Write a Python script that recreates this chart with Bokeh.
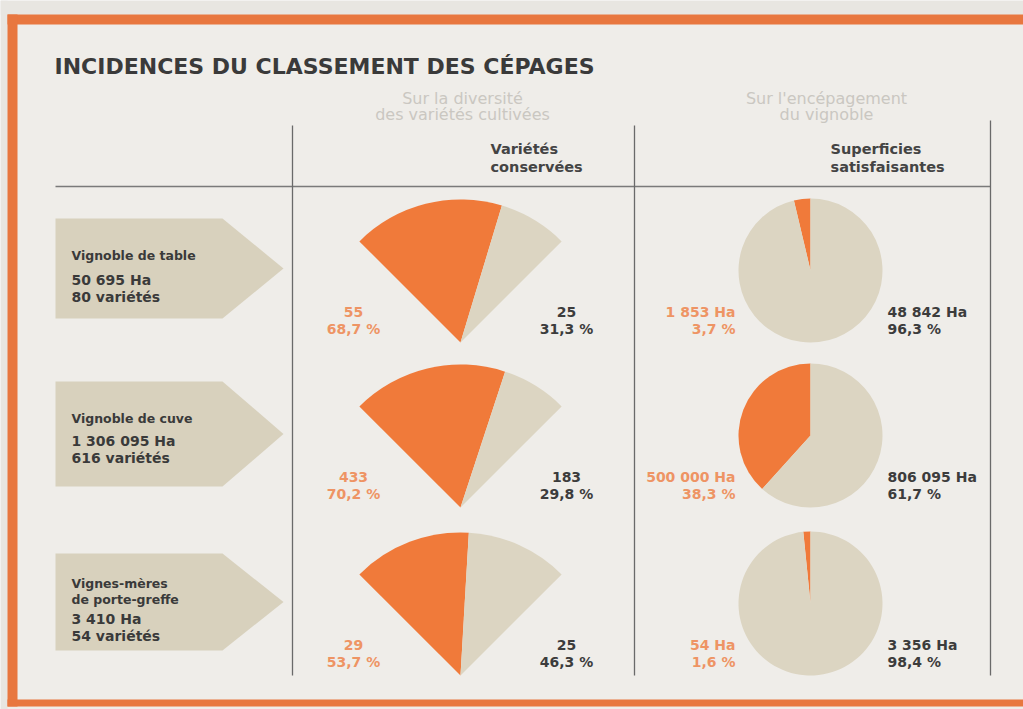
from bokeh.plotting import figure
from bokeh.models import Range1d
from bokeh.embed import file_html
from bokeh.resources import INLINE
from bokeh.core.properties import value
import numpy as np

# ---------------- data ----------------
title = "INCIDENCES DU CLASSEMENT DES CÉPAGES"
head_left = ["Sur la diversité", "des variétés cultivées"]
head_right = ["Sur l'encépagement", "du vignoble"]
sub_left = ["Variétés", "conservées"]
sub_right = ["Superficies", "satisfaisantes"]

category_lines = [["Vignoble de table"], ["Vignoble de cuve"], ["Vignes-mères", "de porte-greffe"]]
total_ha = [50695, 1306095, 3410]
total_var = [80, 616, 54]

var_other = [55, 433, 29]          # orange part of fan
var_other_pct = [68.7, 70.2, 53.7]
var_kept = [25, 183, 25]           # beige part (variétés conservées)
var_kept_pct = [31.3, 29.8, 46.3]

ha_other = [1853, 500000, 54]       # orange part of pie
ha_other_pct = [3.7, 38.3, 1.6]
ha_sat = [48842, 806095, 3356]      # beige part (superficies satisfaisantes)
ha_sat_pct = [96.3, 61.7, 98.4]

# ---------------- style ----------------
ORANGE = "#f07a3a"
ORANGE_TXT = "#ee9464"
BEIGE = "#dcd5c2"
ARROW = "#d8d1bd"
BG = "#efede9"
OUTER = "#e8e6e1"
FRAME = "#e8773f"
DARK = "#3c3c3c"
FONT = value("DejaVu Sans")

def fmt_int(n):
    return f"{n:,}".replace(",", " ")

def fmt_pct(v):
    return f"{v:.1f}".replace(".", ",") + " %"

W, H = 1023, 709
p = figure(width=W, height=H, x_range=Range1d(0, W), y_range=Range1d(0, H),
           output_backend="svg", toolbar_location=None, min_border=0)
p.axis.visible = False
p.grid.visible = False
p.outline_line_color = None
p.background_fill_color = BG
p.border_fill_color = OUTER

def Y(v):
    return H - v

# frame
p.quad(left=0, right=W, top=Y(0), bottom=Y(14), fill_color=OUTER, line_color=None)
p.quad(left=0, right=7, top=Y(0), bottom=Y(H), fill_color=OUTER, line_color=None)
p.quad(left=7, right=W, top=Y(14), bottom=Y(24), fill_color=FRAME, line_color=None)
p.quad(left=7, right=17, top=Y(14), bottom=Y(706), fill_color=FRAME, line_color=None)
p.quad(left=7, right=W, top=Y(699), bottom=Y(706), fill_color=FRAME, line_color=None)

# rules
p.segment(x0=55, y0=Y(186), x1=990, y1=Y(186), line_color="#7a7a7a", line_width=1.3)
p.segment(x0=[292, 634, 990], y0=[Y(125), Y(125), Y(120)], x1=[292, 634, 990],
          y1=[Y(675)] * 3, line_color="#6a6a6a", line_width=1.3)

def txt(x, y, t, size, color=DARK, align="left", bold=True):
    p.text(x=[x], y=[Y(y)], text=[t], text_font=FONT, text_font_size=f"{size}px",
           text_font_style="bold" if bold else "normal", text_color=color,
           text_align=align, text_baseline="middle")

# title & headers
txt(54, 66, title, 22, color="#3a3a3a")
HC = "#cac7c1"
txt(462, 98, head_left[0], 16, color=HC, align="center", bold=False)
txt(462, 114, head_left[1], 16, color=HC, align="center", bold=False)
txt(826, 98, head_right[0], 16, color=HC, align="center", bold=False)
txt(826, 114, head_right[1], 16, color=HC, align="center", bold=False)
txt(490, 148, sub_left[0], 14.5, color="#444444")
txt(490, 166, sub_left[1], 14.5, color="#444444")
txt(830, 148, sub_right[0], 14.5, color="#444444")
txt(830, 166, sub_right[1], 14.5, color="#444444")

# row layout
base = [342, 507, 675]
arrow_top = [218, 381, 553]
arrow_bot = [318, 486, 650]
name_off = [37, 37, 30]
ha_gap = [24, 22, 19]

for i in range(3):
    t, b = arrow_top[i], arrow_bot[i]
    mid = (t + b) / 2
    p.patch(x=[55, 222, 283, 222, 55], y=[Y(t), Y(t), Y(mid), Y(b), Y(b)],
            fill_color=ARROW, line_color=None)
    yy = t + name_off[i]
    for line in category_lines[i]:
        txt(71, yy, line, 12.5, color="#3a3a3a")
        yy += 16
    yy += ha_gap[i] - 16
    txt(71, yy, fmt_int(total_ha[i]) + " Ha", 14, color="#3a3a3a")
    txt(71, yy + 17, fmt_int(total_var[i]) + " variétés", 14, color="#3a3a3a")

    # fan (90 degree sector)
    split = 135 - var_other_pct[i] / 100 * 90
    p.wedge(x=[460], y=[Y(base[i])], radius=143, start_angle=np.radians(split),
            end_angle=np.radians(135), fill_color=ORANGE, line_color=None)
    p.wedge(x=[460], y=[Y(base[i])], radius=143, start_angle=np.radians(45),
            end_angle=np.radians(split), fill_color=BEIGE, line_color=None)

    # pie
    end = 90 + ha_other_pct[i] / 100 * 360
    p.wedge(x=[810], y=[Y(base[i] - 72)], radius=72, start_angle=np.radians(90),
            end_angle=np.radians(end), fill_color=ORANGE, line_color=None)
    p.wedge(x=[810], y=[Y(base[i] - 72)], radius=72, start_angle=np.radians(end),
            end_angle=np.radians(450), fill_color=BEIGE, line_color=None)

    y1, y2 = base[i] - 31, base[i] - 14
    txt(353, y1, fmt_int(var_other[i]), 14, color=ORANGE_TXT, align="center")
    txt(353, y2, fmt_pct(var_other_pct[i]), 14, color=ORANGE_TXT, align="center")
    txt(566, y1, fmt_int(var_kept[i]), 14, color=DARK, align="center")
    txt(566, y2, fmt_pct(var_kept_pct[i]), 14, color=DARK, align="center")
    txt(735, y1, fmt_int(ha_other[i]) + " Ha", 14, color=ORANGE_TXT, align="right")
    txt(735, y2, fmt_pct(ha_other_pct[i]), 14, color=ORANGE_TXT, align="right")
    txt(887, y1, fmt_int(ha_sat[i]) + " Ha", 14, color=DARK)
    txt(887, y2, fmt_pct(ha_sat_pct[i]), 14, color=DARK)

html = file_html(p, INLINE)
html = html.replace("<body>", f"<body style=\"margin:0;overflow:hidden;background:{OUTER};\">", 1)
open("out.html", "w").write(html)
